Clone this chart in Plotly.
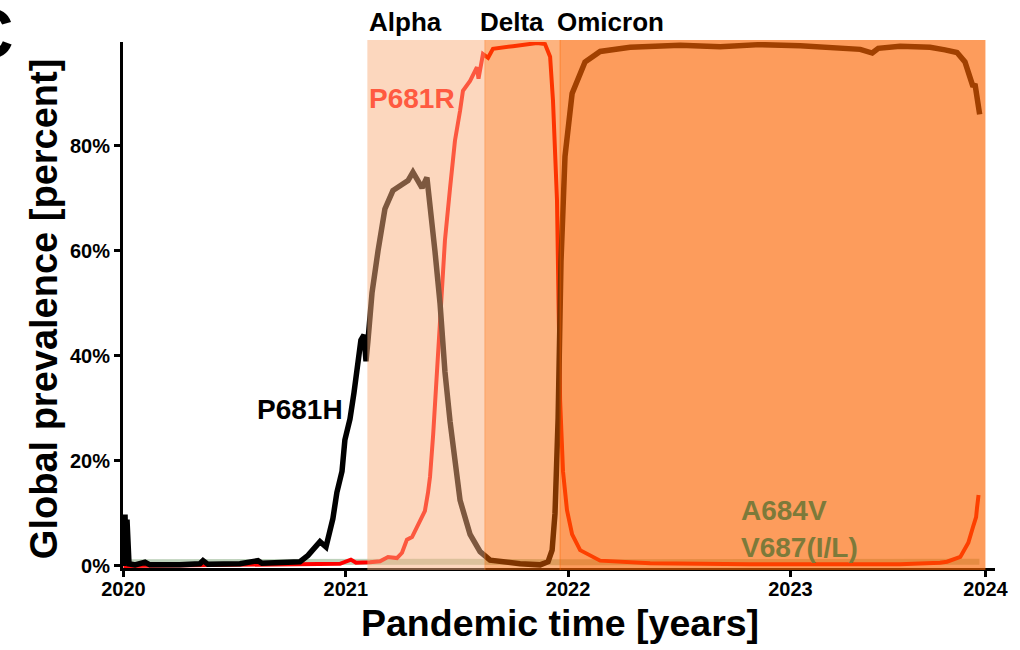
import plotly.graph_objects as go

# ---------------- data (decimal years, percent) ----------------
p681h_t = [2020.000, 2020.007, 2020.011, 2020.016, 2020.025, 2020.052, 2020.097, 2020.119,
           2020.254, 2020.344, 2020.358, 2020.380, 2020.524, 2020.605, 2020.623, 2020.749,
           2020.794, 2020.830, 2020.861, 2020.884, 2020.911, 2020.942, 2020.960, 2020.983,
           2020.996, 2021.019, 2021.037, 2021.055, 2021.068, 2021.082, 2021.091, 2021.100,
           2021.118, 2021.145, 2021.176, 2021.212, 2021.244, 2021.280, 2021.302, 2021.325,
           2021.343, 2021.365, 2021.379, 2021.401, 2021.424, 2021.446, 2021.469, 2021.491,
           2021.514, 2021.559, 2021.604, 2021.649, 2021.784, 2021.874, 2021.910, 2021.928,
           2021.941, 2021.955, 2021.968, 2021.986, 2022.018, 2022.076, 2022.144, 2022.279,
           2022.504, 2022.684, 2022.864, 2023.044, 2023.224, 2023.314, 2023.368, 2023.395,
           2023.493, 2023.628, 2023.695, 2023.749, 2023.785, 2023.808, 2023.821, 2023.830,
           2023.843, 2023.851]
p681h_v = [0, 9.8, 3, 8.8, 0.4, 0.2, 0.7, 0.2,
           0.2, 0.4, 1.0, 0.3, 0.4, 1.0, 0.5, 0.6,
           0.8, 2.0, 3.5, 4.6, 3.6, 9, 14, 18,
           24, 28, 33, 38, 43, 44, 39, 43,
           52, 60, 68, 71.5, 72.5, 73.4, 75, 73.5,
           72, 74, 69, 60, 50, 37, 27.5, 21,
           12.5, 6, 2.7, 1.1, 0.4, 0.2, 0.8, 3,
           10, 28, 58, 78, 90, 96, 98, 98.8,
           99.2, 98.9, 99.3, 99.1, 98.7, 98.4, 97.7, 98.6,
           99.0, 98.8, 98.3, 97.8, 96, 92.5, 91.3, 91.8,
           88.5, 86]

p681r_t = [2020.000, 2020.164, 2020.569, 2020.794, 2020.974, 2021.023, 2021.046, 2021.109,
           2021.154, 2021.190, 2021.230, 2021.253, 2021.275, 2021.298, 2021.316, 2021.334,
           2021.356, 2021.370, 2021.379, 2021.393, 2021.411, 2021.433, 2021.446, 2021.469,
           2021.491, 2021.514, 2021.527, 2021.559, 2021.581, 2021.590, 2021.597, 2021.617,
           2021.640, 2021.662, 2021.752, 2021.860, 2021.896, 2021.919, 2021.932, 2021.941,
           2021.950, 2021.957, 2021.964, 2021.977, 2021.995, 2022.018, 2022.054, 2022.144,
           2022.369, 2022.818, 2023.493, 2023.673, 2023.704, 2023.764, 2023.800, 2023.821,
           2023.835, 2023.839, 2023.846]
p681r_v = [0, 0.1, 0.2, 0.3, 0.4, 1.2, 0.6, 0.7,
           0.9, 1.7, 1.5, 2.5, 5, 5.5, 7, 8.7,
           10.5, 14, 17, 25, 38, 51, 62, 72,
           81, 86.7, 90.5, 92.4, 94.5, 95, 92.8, 97.5,
           96.8, 98.5, 99, 99.6, 99.4, 97, 88.6, 79,
           69.6, 50, 31.6, 18, 10.6, 6, 3, 1,
           0.5, 0.3, 0.3, 0.6, 0.8, 1.7, 4.4, 7.4,
           9.3, 11, 13.5]

a684v_t = [2020.0, 2020.5, 2021.0, 2021.5, 2022.0, 2022.5, 2023.0, 2023.5, 2023.85]
a684v_v = [0.7, 0.8, 0.8, 0.8, 0.7, 0.7, 0.8, 0.8, 0.8]

# variant periods (decimal years)
variant_names = ["Alpha", "Delta", "Omicron"]
variant_start = [2021.097, 2021.624, 2021.962]
variant_end = [2021.628, 2021.966, 2023.877]

xtick_vals = [2020, 2021, 2022, 2023, 2023.877]
xtick_text = ["2020", "2021", "2022", "2023", "2024"]
ytick_vals = [0, 20, 40, 60, 80]
ytick_text = ["0%", "20%", "40%", "60%", "80%"]

# ---------------- figure ----------------
FONT = "Liberation Sans, Arial, Helvetica, sans-serif"

fig = go.Figure()
fig.add_trace(go.Scatter(x=a684v_t, y=a684v_v, mode="lines",
                         line=dict(color="rgba(70,125,60,0.35)", width=6),
                         hoverinfo="skip", showlegend=False))
fig.add_trace(go.Scatter(x=p681r_t, y=p681r_v, mode="lines",
                         line=dict(color="#ff0000", width=4),
                         showlegend=False))
fig.add_trace(go.Scatter(x=p681h_t, y=p681h_v, mode="lines",
                         line=dict(color="#000000", width=5.5),
                         showlegend=False))

fills = [("rgb(250,175,125)", 0.5), ("rgb(251,103,0)", 0.5), ("rgb(252,100,0)", 0.64)]
for (col, op), x0, x1 in zip(fills, variant_start, variant_end):
    fig.add_shape(type="rect", xref="x", yref="paper", x0=x0, x1=x1,
                  y0=-0.004, y1=1.004, fillcolor=col, opacity=op,
                  line=dict(width=0), layer="above")

ann = []
for name, xc in zip(variant_names, [2021.268, 2021.748, 2022.189]):
    ann.append(dict(x=xc, y=1.038, xref="x", yref="paper", text=name,
                    xanchor="center", yanchor="middle", showarrow=False,
                    font=dict(family=FONT, size=26, color="black", weight="bold")))
ann.append(dict(x=2021.298, y=89.1, xref="x", yref="y", text="P681R", showarrow=False,
                font=dict(family=FONT, size=28, color="#ff5a40", weight="bold")))
ann.append(dict(x=2020.794, y=29.7, xref="x", yref="y", text="P681H", showarrow=False,
                font=dict(family=FONT, size=28, color="black", weight="bold")))
ann.append(dict(x=2022.769, y=10.6, xref="x", yref="y", text="A684V", showarrow=False,
                xanchor="left", font=dict(family=FONT, size=28, color="#7d7a3a", weight="bold")))
ann.append(dict(x=2022.769, y=3.6, xref="x", yref="y", text="V687(I/L)", showarrow=False,
                xanchor="left", font=dict(family=FONT, size=28, color="#7d7a3a", weight="bold")))
# axis titles
ann.append(dict(x=0.501, y=-0.104, xref="paper", yref="paper", text="Pandemic time [years]",
                xanchor="center", yanchor="middle", showarrow=False,
                font=dict(family=FONT, size=37.5, color="black", weight="bold")))
ann.append(dict(x=-0.0906, y=0.494, xref="paper", yref="paper", text="Global prevalence [percent]",
                xanchor="center", yanchor="middle", textangle=-90, showarrow=False,
                font=dict(family=FONT, size=38, color="black", weight="bold")))
# panel letter, partly cut off at the left edge
ann.append(dict(x=-0.1227, y=1.015, xref="paper", yref="paper", text="C",
                xanchor="right", yanchor="middle", showarrow=False,
                font=dict(family=FONT, size=70, color="black", weight="bold")))

fig.update_layout(
    width=1020, height=650,
    margin=dict(l=123, r=25, t=42, b=82),
    paper_bgcolor="white", plot_bgcolor="white",
    showlegend=False,
    annotations=ann,
    xaxis=dict(range=[2019.998, 2023.92], tickvals=xtick_vals, ticktext=xtick_text,
               showgrid=False, zeroline=False, showline=True, linecolor="black", linewidth=3,
               ticks="outside", ticklen=6, tickwidth=3, tickcolor="black",
               ticklabelstandoff=-5,
               tickfont=dict(family=FONT, size=20, color="black", weight="bold")),
    yaxis=dict(range=[-0.4, 99.8], tickvals=ytick_vals, ticktext=ytick_text,
               showgrid=False, zeroline=False, showline=True, linecolor="black", linewidth=3,
               ticks="outside", ticklen=6, tickwidth=3, tickcolor="black",
               tickfont=dict(family=FONT, size=20, color="black", weight="bold")),
)

fig.write_html("out.html", config={"displayModeBar": False},
               post_script="document.body.style.margin='0';")
